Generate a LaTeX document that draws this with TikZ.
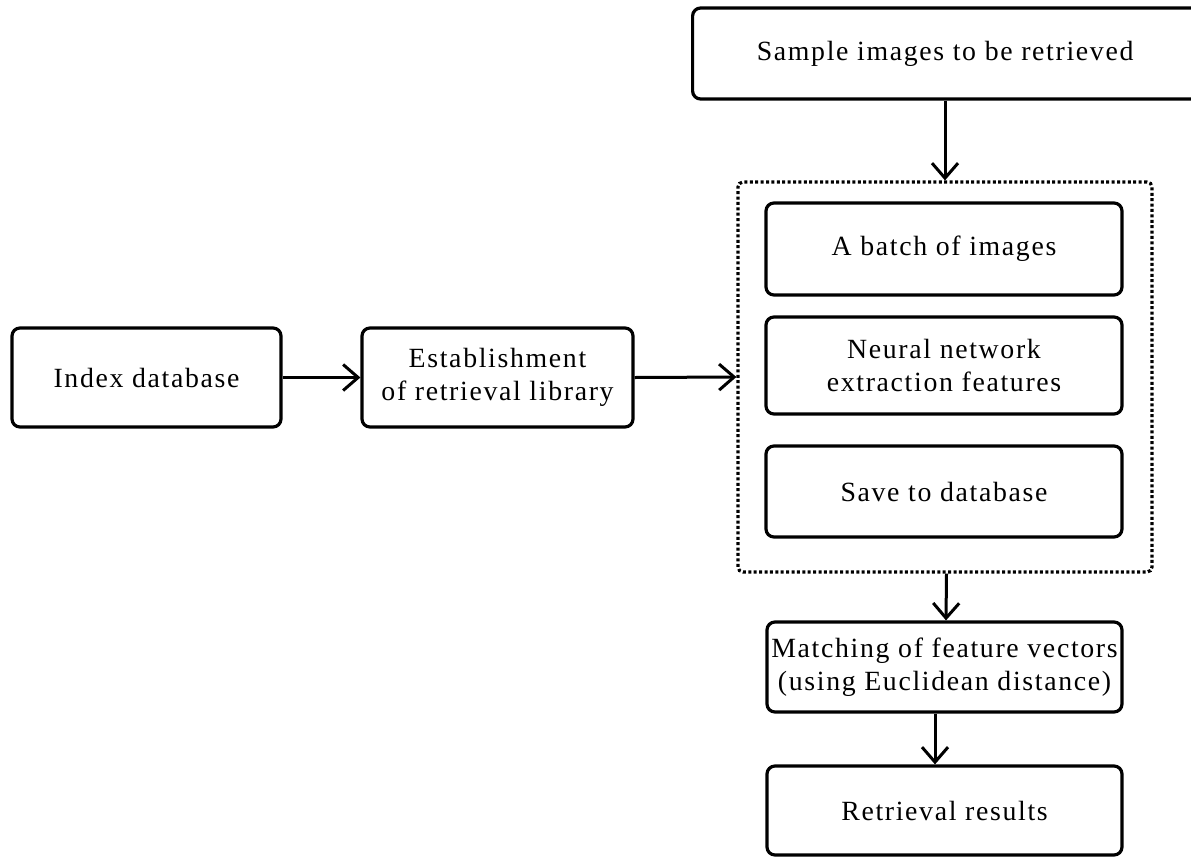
\documentclass[tikz,border=0pt]{standalone}
\usepackage{fontspec}
\setmainfont{Liberation Serif}[LetterSpace=6]
\usetikzlibrary{arrows.meta}
\begin{document}
\begin{tikzpicture}[x=1pt,y=-1pt,
  box/.style={draw, line width=3.2pt, rounded corners=8pt, inner sep=0pt, align=center,
    font=\fontsize{27.8}{33}\selectfont},
  dotbox/.style={draw, line width=3.2pt, rounded corners=5pt, dash pattern=on 3pt off 2.4pt, inner sep=0pt},
  arr/.style={line width=3pt, -{Straight Barb[length=15pt,width=26pt,line width=3pt]}}]
\useasboundingbox (0,0) rectangle (1191,857);
\node[box, anchor=west, minimum width=560pt, minimum height=91pt] (top) at (691,53.5) {\makebox[505pt]{Sample images to be retrieved}\hspace*{55pt}};
\node[dotbox, minimum width=414pt, minimum height=390pt] (group) at (945,377) {};
\node[box, minimum width=356pt, minimum height=92pt] (batch) at (944,249) {A batch of images};
\node[box, minimum width=356pt, minimum height=97pt] (neural) at (944,365.5) {Neural network\\extraction features};
\node[box, minimum width=356pt, minimum height=91pt] (save) at (944,491.5) {Save to database};
\node[box, minimum width=269pt, minimum height=99pt] (index) at (146.5,377.5) {Index database};
\node[box, minimum width=271pt, minimum height=99pt] (estab) at (497.5,377.5) {Establishment\\of retrieval library};
\node[box, minimum width=355pt, minimum height=90pt] (match) at (944.5,667) {Matching of feature vectors\\(using Euclidean distance)};
\node[box, minimum width=355pt, minimum height=89pt] (results) at (944.5,810.5) {Retrieval results};
\draw[arr] (top.south -| group.north) -- (group.north);
\draw[arr] (index.east) -- (estab.west);
\draw[arr] (estab.east) -- (group.west);
\draw[arr] ([xshift=1.5pt]group.south) -- ([xshift=1.5pt]match.north);
\draw[arr] ([xshift=-9.5pt]match.south) -- ([xshift=-9.5pt]results.north);
\end{tikzpicture}
\end{document}
